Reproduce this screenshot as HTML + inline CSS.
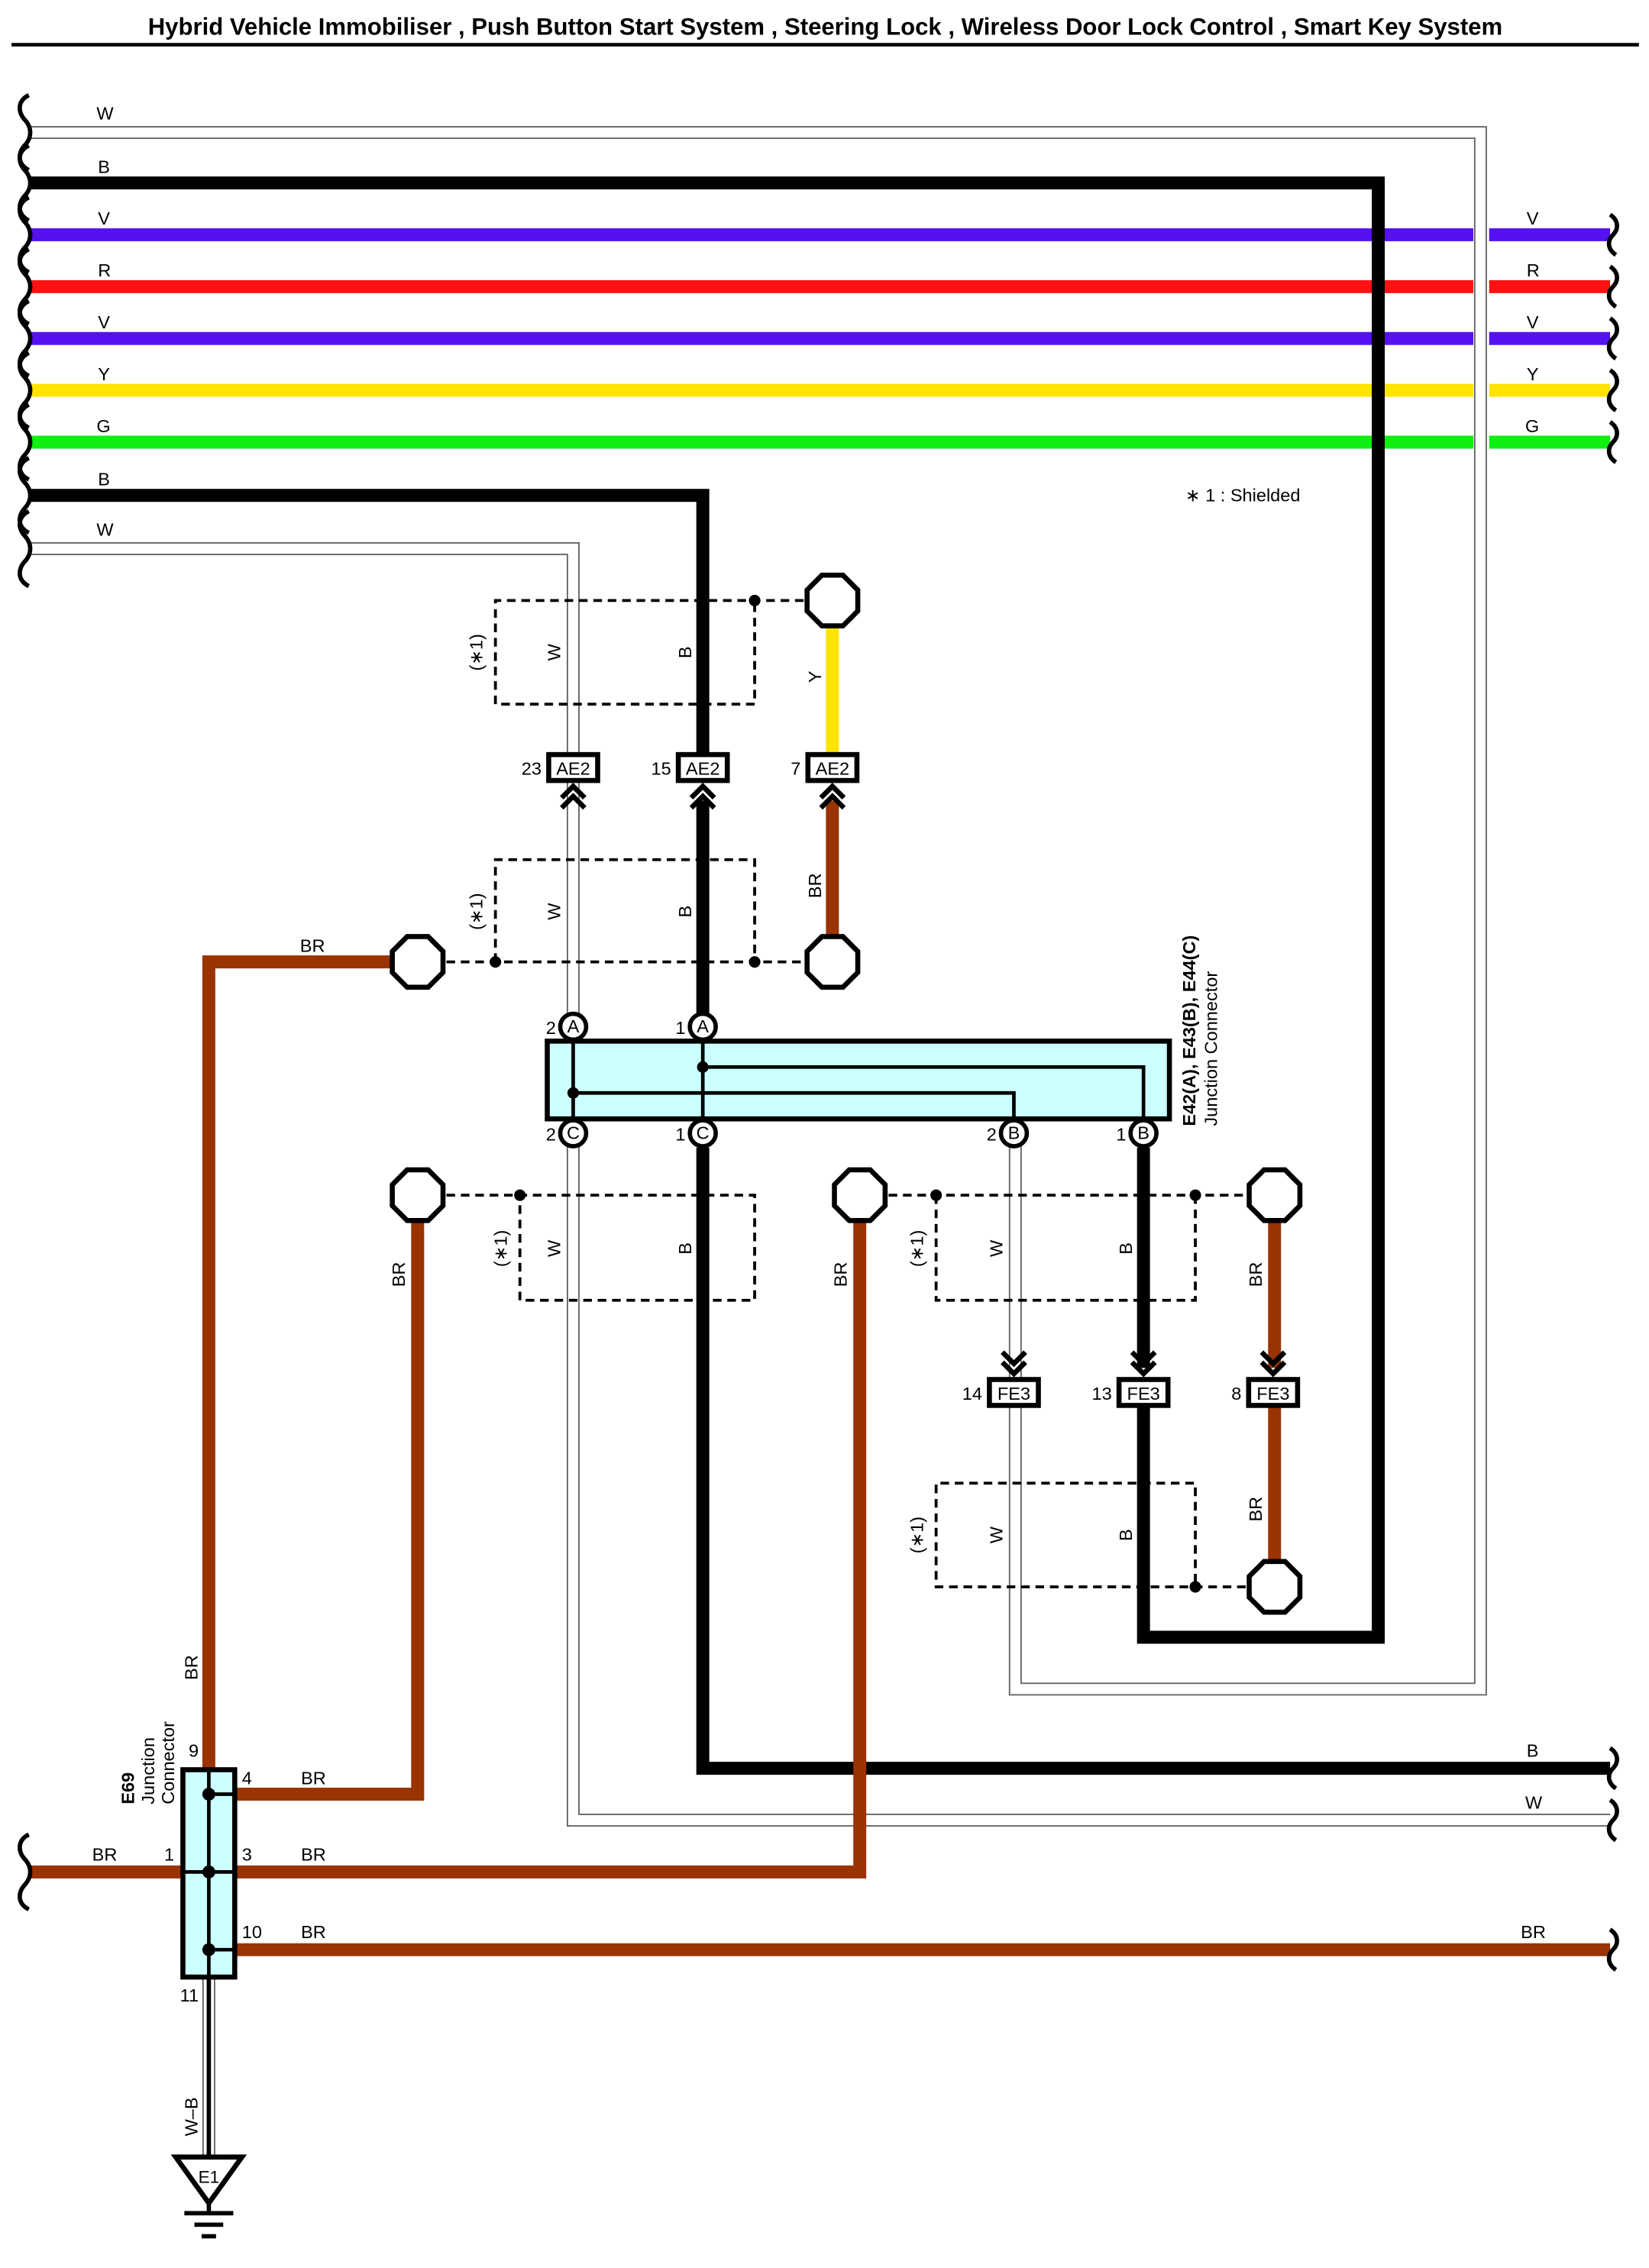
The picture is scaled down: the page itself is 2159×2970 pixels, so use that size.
<!DOCTYPE html>
<html><head><meta charset="utf-8"><style>
html,body{margin:0;padding:0;background:#fff}
svg{display:block}
text{font-family:"Liberation Sans",sans-serif;font-size:12.5px;fill:#000}
</style></head><body>
<svg width="2159" height="2970" viewBox="0 0 1145 1575" xmlns="http://www.w3.org/2000/svg">
<defs>
<g id="oct"><polygon points="-7.3,-17.6 7.3,-17.6 17.6,-7.3 17.6,7.3 7.3,17.6 -7.3,17.6 -17.6,7.3 -17.6,-7.3" fill="#fff" stroke="#000" stroke-width="3.5"/></g>
<g id="chu"><polyline points="-8,12 0,4 8,12" fill="none" stroke="#000" stroke-width="3.5"/><polyline points="-8,19 0,11 8,19" fill="none" stroke="#000" stroke-width="3.5"/></g>
<g id="chd"><polyline points="-8,-12 0,-4 8,-12" fill="none" stroke="#000" stroke-width="3.5"/><polyline points="-8,-19 0,-11 8,-19" fill="none" stroke="#000" stroke-width="3.5"/></g>
<path id="sq" d="M20,-26 C12,-22 12,-14 18,-8 C22,-3 22,3 18,8 C12,14 12,22 20,26" fill="none" stroke="#000" stroke-width="3"/>
<path id="sqr" d="M1118,-14 C1124,-10 1124,-4 1120,0 C1116,4 1116,10 1122,14" fill="none" stroke="#000" stroke-width="3"/>
</defs>
<text x="573" y="24" text-anchor="middle" style="font-weight:bold;font-size:16.5px">Hybrid Vehicle Immobiliser , Push Button Start System , Steering Lock , Wireless Door Lock Control , Smart Key System</text>
<line x1="8" y1="31" x2="1138" y2="31" stroke="#000" stroke-width="2.5"/>

<g fill="none" stroke-linejoin="miter">
<path d="M20,92 H1028 V1173 H705 V790" stroke="#666" stroke-width="9"/>
<path d="M20,92 H1028 V1173 H705 V790" stroke="#fff" stroke-width="7"/>
<path d="M20,381 H398 V1264 H1118" stroke="#666" stroke-width="9"/>
<path d="M20,381 H398 V1264 H1118" stroke="#fff" stroke-width="7"/>
<path d="M145,1373 V1500" stroke="#666" stroke-width="9"/>
<path d="M145,1373 V1500" stroke="#fff" stroke-width="7"/>
</g>
<g fill="none" stroke-width="9">
<line x1="20" y1="163" x2="1023" y2="163" stroke="#5511ee"/><line x1="1034" y1="163" x2="1118" y2="163" stroke="#5511ee"/>
<line x1="20" y1="199" x2="1023" y2="199" stroke="#ff1111"/><line x1="1034" y1="199" x2="1118" y2="199" stroke="#ff1111"/>
<line x1="20" y1="235" x2="1023" y2="235" stroke="#5511ee"/><line x1="1034" y1="235" x2="1118" y2="235" stroke="#5511ee"/>
<line x1="20" y1="271" x2="1023" y2="271" stroke="#ffe400"/><line x1="1034" y1="271" x2="1118" y2="271" stroke="#ffe400"/>
<line x1="20" y1="307" x2="1023" y2="307" stroke="#11ee11"/><line x1="1034" y1="307" x2="1118" y2="307" stroke="#11ee11"/>
<path d="M20,127 H957 V1137 H794 V976" stroke="#000"/>
<path d="M794,797 V950" stroke="#000"/>
<path d="M20,344 H488 V528" stroke="#000"/>
<path d="M488,556 V705" stroke="#000"/>
<path d="M488,797 V1228 H1118" stroke="#000"/>
<line x1="578" y1="436" x2="578" y2="525" stroke="#ffe400"/>
<line x1="578" y1="556" x2="578" y2="650" stroke="#993300"/>
<path d="M272,668 H145 V1229" stroke="#993300"/>
<path d="M290,849 V1246 H163" stroke="#993300"/>
<path d="M597,849 V1300 H163" stroke="#993300"/>
<path d="M20,1300 H127" stroke="#993300"/>
<path d="M163,1354 H1118" stroke="#993300"/>
<line x1="885" y1="849" x2="885" y2="950" stroke="#993300"/>
<line x1="885" y1="976" x2="885" y2="1084" stroke="#993300"/>
<line x1="145" y1="1373" x2="145" y2="1500" stroke="#000" stroke-width="3"/>
</g>
<use href="#sq" y="92"/><use href="#sq" y="127"/><use href="#sq" y="163"/><use href="#sq" y="199"/><use href="#sq" y="235"/><use href="#sq" y="271"/><use href="#sq" y="307"/><use href="#sq" y="344"/><use href="#sq" y="381"/>
<use href="#sq" y="1300"/>
<use href="#sqr" y="163"/><use href="#sqr" y="199"/><use href="#sqr" y="235"/><use href="#sqr" y="271"/><use href="#sqr" y="307"/>
<use href="#sqr" y="1228"/><use href="#sqr" y="1264"/><use href="#sqr" y="1354"/>

<text x="67" y="83">W</text><text x="68" y="120">B</text><text x="68" y="156">V</text><text x="68" y="192">R</text><text x="68" y="228">V</text><text x="68" y="264">Y</text><text x="67" y="300">G</text><text x="68" y="337">B</text><text x="67" y="372">W</text>
<text x="1060" y="156">V</text><text x="1060" y="192">R</text><text x="1060" y="228">V</text><text x="1060" y="264">Y</text><text x="1059" y="300">G</text>
<text x="1060" y="1220">B</text><text x="1059" y="1256">W</text><text x="1056" y="1346">BR</text>
<text x="823" y="348">∗ 1 : Shielded</text>

<g fill="none" stroke="#000" stroke-width="2" stroke-dasharray="6,4">
<path d="M578,417 H344 V489 H524 V417"/>
<path d="M290,668 H578 M344,668 V597 H524 V668"/>
<path d="M290,830 H524 V903 H361 V830"/>
<path d="M597,830 H885 M650,830 V903 H830 V830"/>
<path d="M885,1102 H650 V1030 H830 V1102"/>
</g>
<g fill="#000"><circle cx="524" cy="417" r="4"/><circle cx="344" cy="668" r="4"/><circle cx="524" cy="668" r="4"/><circle cx="361" cy="830" r="4"/><circle cx="650" cy="830" r="4"/><circle cx="830" cy="830" r="4"/><circle cx="830" cy="1102" r="4"/></g>
<g>
<text transform="translate(335,453) rotate(-90)" text-anchor="middle">(∗1)</text>
<text transform="translate(389,453) rotate(-90)" text-anchor="middle">W</text>
<text transform="translate(480,453) rotate(-90)" text-anchor="middle">B</text>
<text transform="translate(570,470) rotate(-90)" text-anchor="middle">Y</text>
<text transform="translate(335,633) rotate(-90)" text-anchor="middle">(∗1)</text>
<text transform="translate(389,633) rotate(-90)" text-anchor="middle">W</text>
<text transform="translate(480,633) rotate(-90)" text-anchor="middle">B</text>
<text transform="translate(570,615) rotate(-90)" text-anchor="middle">BR</text>
<text transform="translate(352,867) rotate(-90)" text-anchor="middle">(∗1)</text>
<text transform="translate(389,867) rotate(-90)" text-anchor="middle">W</text>
<text transform="translate(480,867) rotate(-90)" text-anchor="middle">B</text>
<text transform="translate(281,885) rotate(-90)" text-anchor="middle">BR</text>
<text transform="translate(588,885) rotate(-90)" text-anchor="middle">BR</text>
<text transform="translate(641,867) rotate(-90)" text-anchor="middle">(∗1)</text>
<text transform="translate(696,867) rotate(-90)" text-anchor="middle">W</text>
<text transform="translate(786,867) rotate(-90)" text-anchor="middle">B</text>
<text transform="translate(876,885) rotate(-90)" text-anchor="middle">BR</text>
<text transform="translate(641,1066) rotate(-90)" text-anchor="middle">(∗1)</text>
<text transform="translate(696,1066) rotate(-90)" text-anchor="middle">W</text>
<text transform="translate(786,1066) rotate(-90)" text-anchor="middle">B</text>
<text transform="translate(876,1048) rotate(-90)" text-anchor="middle">BR</text>
<text transform="translate(137,1158) rotate(-90)" text-anchor="middle">BR</text>
<text transform="translate(137,1470) rotate(-90)" text-anchor="middle">W–B</text>
</g>
<text x="217" y="661" text-anchor="middle">BR</text>

<use href="#oct" x="578" y="417"/><use href="#oct" x="578" y="668"/><use href="#oct" x="290" y="668"/>
<use href="#oct" x="290" y="830"/><use href="#oct" x="597" y="830"/><use href="#oct" x="885" y="830"/><use href="#oct" x="885" y="1102"/>

<g fill="#fff" stroke="#000" stroke-width="3.5">
<rect x="381" y="524" width="34" height="18"/><rect x="471" y="524" width="34" height="18"/><rect x="561" y="524" width="34" height="18"/>
<rect x="687" y="958" width="34" height="18"/><rect x="777" y="958" width="34" height="18"/><rect x="867" y="958" width="34" height="18"/>
</g>
<g text-anchor="middle">
<text x="398" y="538">AE2</text><text x="488" y="538">AE2</text><text x="578" y="538">AE2</text>
<text x="704" y="972">FE3</text><text x="794" y="972">FE3</text><text x="884" y="972">FE3</text>
</g>
<g text-anchor="end"><text x="376" y="538">23</text><text x="466" y="538">15</text><text x="556" y="538">7</text>
<text x="682" y="972">14</text><text x="772" y="972">13</text><text x="862" y="972">8</text></g>
<use href="#chu" x="398" y="542"/><use href="#chu" x="488" y="542"/><use href="#chu" x="578" y="542"/>
<use href="#chd" x="704" y="958"/><use href="#chd" x="794" y="958"/><use href="#chd" x="884" y="958"/>

<rect x="380" y="723" width="432" height="54" fill="#ccffff" stroke="#000" stroke-width="3.5"/>
<g fill="none" stroke="#000" stroke-width="2.5">
<line x1="398" y1="723" x2="398" y2="777"/><line x1="488" y1="723" x2="488" y2="777"/>
<path d="M488,741 H794 V777"/><path d="M398,759 H704 V777"/>
</g>
<circle cx="488" cy="741" r="4"/><circle cx="398" cy="759" r="4"/>
<g fill="#fff" stroke="#000" stroke-width="3">
<circle cx="398" cy="713" r="9"/><circle cx="488" cy="713" r="9"/><circle cx="398" cy="787" r="9"/><circle cx="488" cy="787" r="9"/><circle cx="704" cy="787" r="9"/><circle cx="794" cy="787" r="9"/>
</g>
<g text-anchor="middle" style="font-size:11px"><text x="398" y="717">A</text><text x="488" y="717">A</text><text x="398" y="791">C</text><text x="488" y="791">C</text><text x="704" y="791">B</text><text x="794" y="791">B</text></g>
<g text-anchor="end"><text x="386" y="718">2</text><text x="476" y="718">1</text><text x="386" y="792">2</text><text x="476" y="792">1</text><text x="692" y="792">2</text><text x="782" y="792">1</text></g>
<text transform="translate(830,782) rotate(-90)" style="font-weight:bold">E42(A), E43(B), E44(C)</text>
<text transform="translate(845,782) rotate(-90)">Junction Connector</text>

<rect x="127" y="1229" width="36" height="144" fill="#ccffff" stroke="#000" stroke-width="3.5"/>
<g stroke="#000" stroke-width="2.5"><line x1="145" y1="1229" x2="145" y2="1373"/><line x1="145" y1="1246" x2="163" y2="1246"/><line x1="127" y1="1300" x2="163" y2="1300"/><line x1="145" y1="1354" x2="163" y2="1354"/></g>
<circle cx="145" cy="1246" r="4.5"/><circle cx="145" cy="1300" r="4.5"/><circle cx="145" cy="1354" r="4.5"/>
<text x="131" y="1220">9</text><text x="168" y="1239">4</text><text x="114" y="1292">1</text><text x="168" y="1292">3</text><text x="168" y="1346">10</text><text x="125" y="1390">11</text>
<text x="209" y="1239">BR</text><text x="209" y="1292">BR</text><text x="209" y="1346">BR</text><text x="64" y="1292">BR</text>
<text transform="translate(93,1253) rotate(-90)" style="font-weight:bold">E69</text>
<text transform="translate(107,1253) rotate(-90)">Junction</text>
<text transform="translate(121,1253) rotate(-90)">Connector</text>
<polygon points="122,1498 168,1498 145,1530" fill="#fff" stroke="#000" stroke-width="3.5"/>
<text x="145" y="1516" text-anchor="middle" style="font-size:12px">E1</text>
<g stroke="#000" stroke-width="3"><line x1="145" y1="1530" x2="145" y2="1537"/><line x1="128" y1="1537" x2="162" y2="1537"/><line x1="135" y1="1545" x2="155" y2="1545"/><line x1="140" y1="1553" x2="150" y2="1553"/></g>
</svg>
</body></html>
